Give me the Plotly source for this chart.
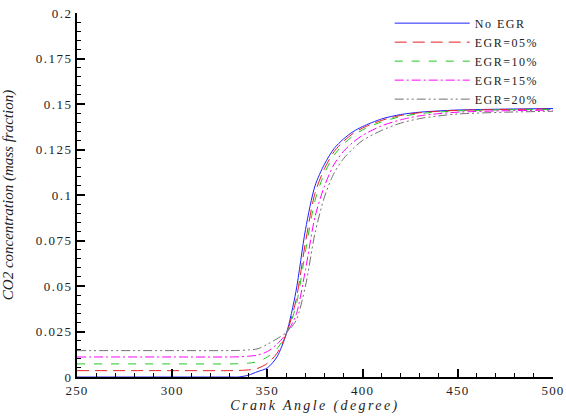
import plotly.graph_objects as go

crank_angle = [250, 300, 330, 335, 340, 345, 350, 355, 360, 365, 370, 375, 380, 385,
               390, 395, 400, 410, 420, 430, 440, 450, 475, 500]

no_egr = [0.0, 0.0, 0.0, 0.0, 0.001, 0.003, 0.005, 0.011, 0.024, 0.047, 0.081, 0.105,
          0.117, 0.1255, 0.1308, 0.1348, 0.1376, 0.1418, 0.1442, 0.1455, 0.1462, 0.1467,
          0.1472, 0.1475]
egr_05 = [0.0035, 0.0035, 0.0035, 0.0036, 0.0039, 0.0048, 0.0075, 0.013, 0.0238, 0.042,
          0.074, 0.101, 0.1145, 0.1238, 0.1295, 0.1338, 0.1368, 0.1410, 0.1437, 0.1452,
          0.1460, 0.1465, 0.1470, 0.1472]
egr_10 = [0.0072, 0.0072, 0.0072, 0.0073, 0.0076, 0.0085, 0.011, 0.0155, 0.0238, 0.039,
          0.069, 0.097, 0.112, 0.1218, 0.128, 0.1325, 0.1358, 0.1402, 0.1430, 0.1447,
          0.1456, 0.1462, 0.1468, 0.1470]
egr_15 = [0.011, 0.011, 0.011, 0.0111, 0.0114, 0.0121, 0.014, 0.018, 0.024, 0.034,
          0.059, 0.088, 0.105, 0.1168, 0.124, 0.129, 0.1328, 0.1380, 0.1413, 0.1435,
          0.1447, 0.1455, 0.1463, 0.1466]
egr_20 = [0.0145, 0.0145, 0.0145, 0.0146, 0.0149, 0.0155, 0.018, 0.021, 0.0245, 0.031,
          0.050, 0.079, 0.099, 0.112, 0.120, 0.1255, 0.130, 0.1355, 0.1395, 0.1420,
          0.1435, 0.1445, 0.1455, 0.1460]

x_tick_vals = [250, 300, 350, 400, 450, 500]
x_tick_text = ["250", "300", "350", "400", "450", "500"]
y_tick_vals = [0, 0.025, 0.05, 0.075, 0.1, 0.125, 0.15, 0.175, 0.2]
y_tick_text = ["0", "0.025", "0.05", "0.075", "0.1", "0.125", "0.15", "0.175", "0.2"]

series = [
    ("No EGR", no_egr, "#2020ff", "solid"),
    ("EGR=05%", egr_05, "#e82020", "12px,6px"),
    ("EGR=10%", egr_10, "#20c820", "8px,9px"),
    ("EGR=15%", egr_15, "#ff00ff", "9px,3px,2px,3px"),
    ("EGR=20%", egr_20, "#707070", "9px,3px,2px,3px,2px,3px"),
]

SERIF = "Liberation Serif"


def spaced(text, px):
    return '<span style="letter-spacing:%spx">%s</span>' % (px, text)


fig = go.Figure()
for name, vals, color, dash in series:
    fig.add_trace(go.Scatter(
        x=crank_angle, y=vals, mode="lines", name=spaced(name, 1.5),
        line=dict(color=color, width=1.0, dash=dash, shape="spline", smoothing=0.8),
    ))

fig.update_layout(
    width=566, height=418,
    margin=dict(l=77, r=13, t=13, b=41, autoexpand=False),
    paper_bgcolor="white", plot_bgcolor="white",
    font=dict(family=SERIF, size=13, color="#222222"),
    showlegend=True,
    legend=dict(
        x=0.657, y=1.012, xanchor="left", yanchor="top",
        bgcolor="rgba(0,0,0,0)", borderwidth=0,
        font=dict(family=SERIF, size=12, color="#222222"),
        itemwidth=75, tracegroupgap=0,
    ),
    xaxis=dict(
        range=[250, 500], tickvals=x_tick_vals,
        ticktext=[spaced(t, 1.2) for t in x_tick_text],
        ticklabeloverflow="allow",
        showgrid=False, zeroline=False, automargin=False,
        showline=True, linecolor="black", linewidth=2,
        ticks="inside", ticklen=8, tickwidth=1.5, tickcolor="black",
        minor=dict(dtick=10, ticks="inside", ticklen=4, tickwidth=1, tickcolor="black"),
        tickfont=dict(family=SERIF, size=13, color="#222222"),
        title=dict(text=spaced("Crank Angle (degree)", 2.4),
                   font=dict(family=SERIF, size=14, style="italic", color="#222222"),
                   standoff=4),
    ),
    yaxis=dict(
        range=[0, 0.2], tickvals=y_tick_vals,
        ticktext=[spaced(t, 1.5) for t in y_tick_text],
        ticklabeloverflow="allow",
        showgrid=False, zeroline=False, automargin=False,
        showline=True, linecolor="black", linewidth=2,
        ticks="inside", ticklen=8, tickwidth=1.5, tickcolor="black",
        minor=dict(dtick=0.005, ticks="inside", ticklen=4, tickwidth=1, tickcolor="black"),
        tickfont=dict(family=SERIF, size=13, color="#222222"),
        title=dict(text="CO2 concentration (mass fraction)",
                   font=dict(family=SERIF, size=15, style="italic", color="#222222"),
                   standoff=27),
    ),
)

fig.write_html("out.html", config={"displayModeBar": False},
               post_script="document.body.style.margin='0px';")
